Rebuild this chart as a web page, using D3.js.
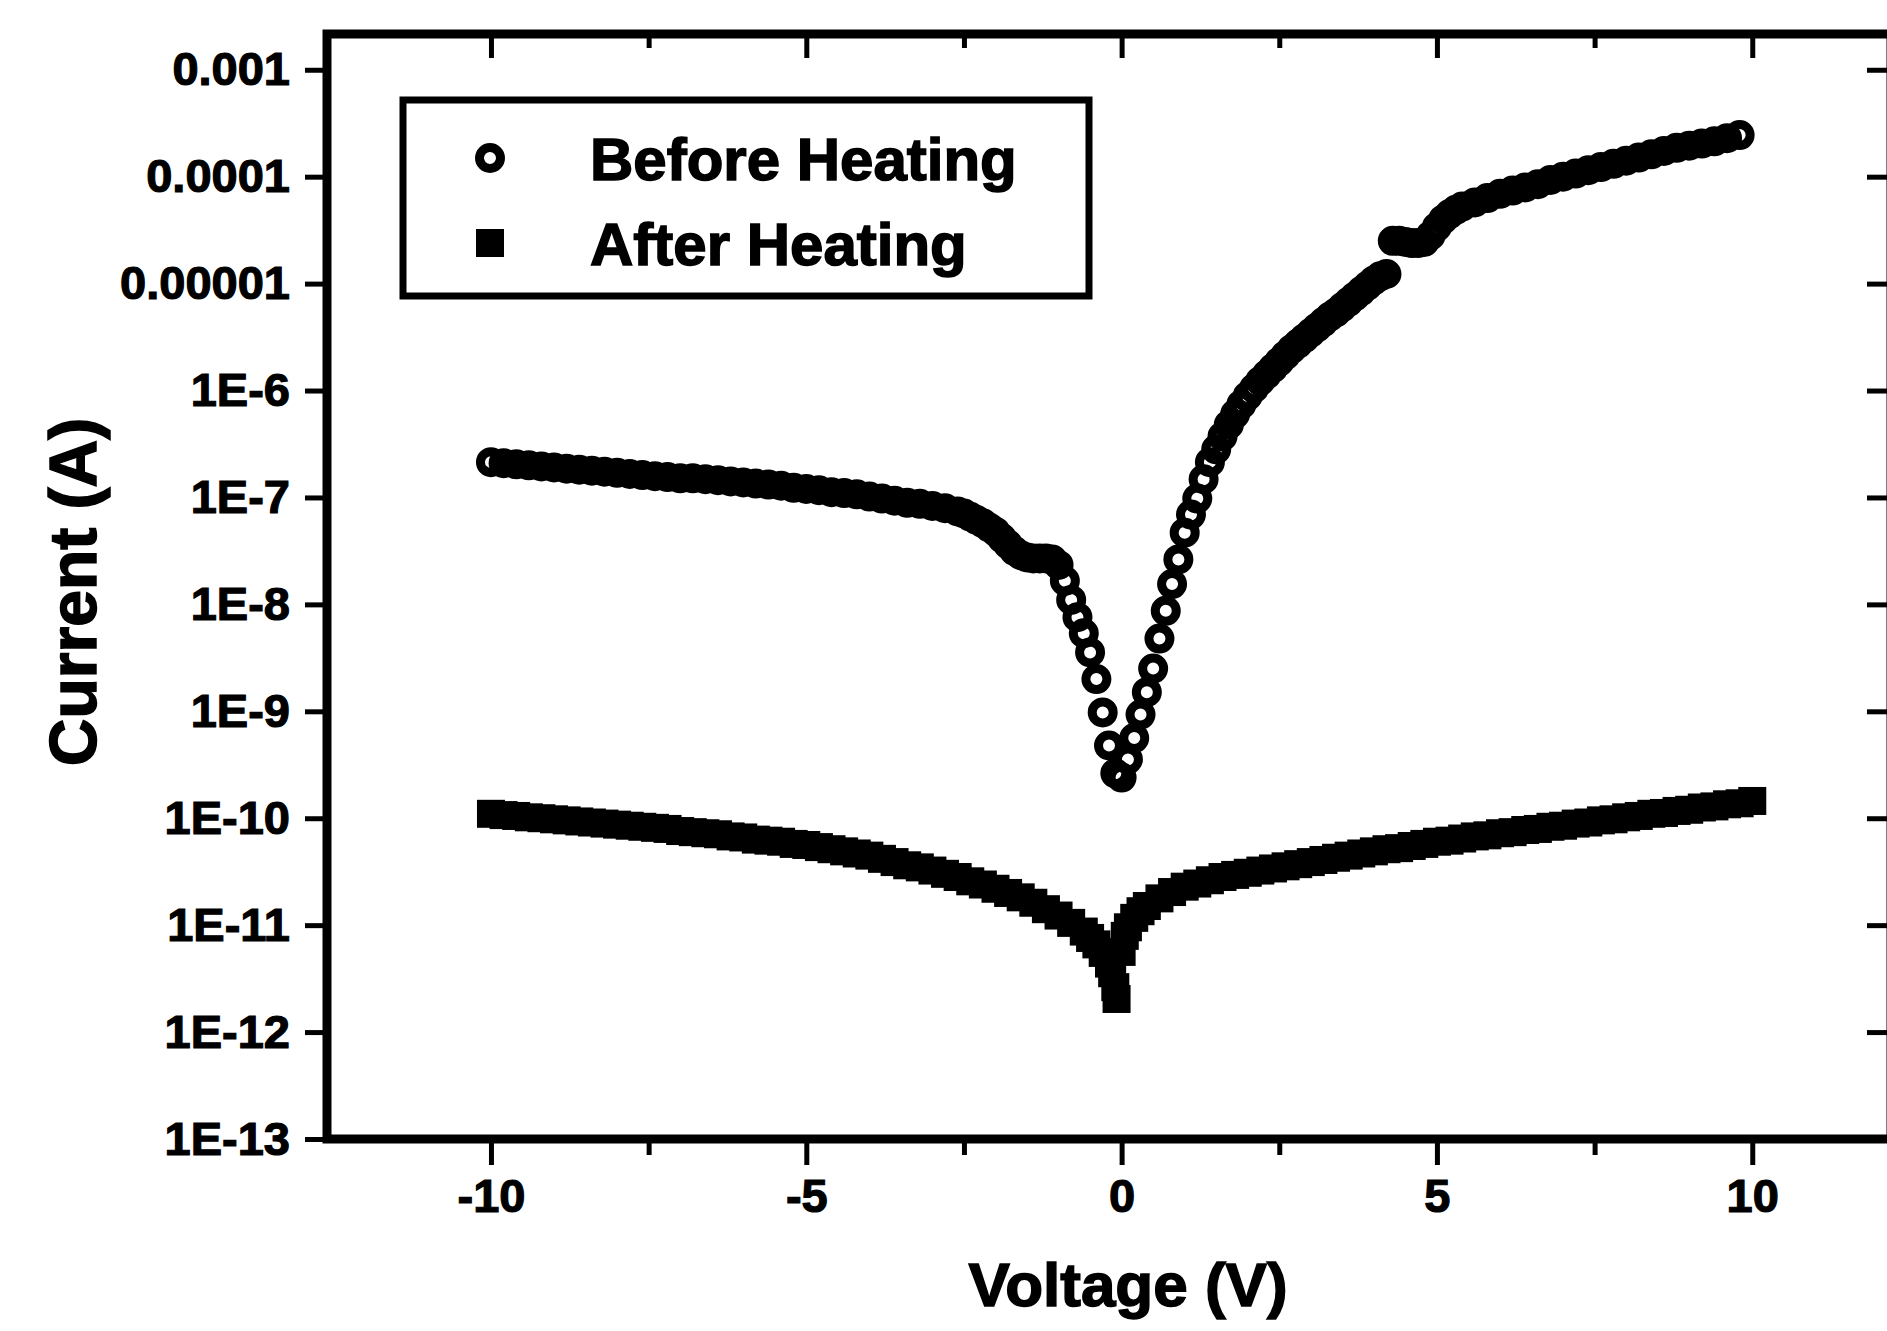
<!DOCTYPE html>
<html><head><meta charset="utf-8">
<script src="https://cdn.jsdelivr.net/npm/d3@7"></script>
<style>
html,body{margin:0;padding:0;background:#fff;overflow:hidden}
svg{display:block}
text{font-family:"Liberation Sans",Arial,Helvetica,sans-serif;font-weight:bold;fill:#000}
</style></head><body>
<svg id="chart" width="1887" height="1331"></svg>
<script>
// I–V sweep before heating (V, A)
const beforeVoltage = [
  -10.0,-9.8,-9.6,-9.4,-9.2,-9.0,-8.8,-8.6,-8.4,-8.2,-8.0,-7.8,-7.6,-7.4,-7.2,-7.0,
  -6.8,-6.6,-6.4,-6.2,-6.0,-5.8,-5.6,-5.4,-5.2,-5.0,-4.8,-4.6,-4.4,-4.2,-4.0,
  -3.8,-3.6,-3.4,-3.2,-3.0,-2.8,-2.6,-2.5,-2.4,-2.3,-2.2,-2.1,-2.0,-1.9,-1.8,-1.7,
  -1.6,-1.5,-1.4,-1.3,-1.2,-1.1,-1.0,-0.9,-0.8,-0.7,-0.6,-0.5,-0.4,-0.3,-0.2,-0.1,
  0.0,0.1,0.2,0.3,0.4,0.5,0.6,0.7,0.8,0.9,1.0,1.1,1.2,1.3,1.4,1.5,1.6,1.7,1.8,1.9,
  2.0,2.1,2.2,2.3,2.4,2.5,2.6,2.7,2.8,2.9,3.0,3.1,3.2,3.3,3.4,3.5,3.6,3.7,3.8,3.9,
  4.0,4.1,4.2,4.3,4.4,4.5,4.6,4.7,4.8,4.9,5.0,5.1,5.2,5.3,5.4,5.6,5.8,6.0,6.2,6.4,
  6.6,6.8,7.0,7.2,7.4,7.6,7.8,8.0,8.2,8.4,8.6,8.8,9.0,9.2,9.4,9.6,9.8
];
const beforeCurrent = [
  2.14e-7,2.09e-7,2.04e-7,2.00e-7,1.95e-7,1.91e-7,1.86e-7,1.82e-7,1.78e-7,1.74e-7,1.70e-7,1.66e-7,1.62e-7,1.58e-7,1.55e-7,1.51e-7,
  1.51e-7,1.48e-7,1.45e-7,1.41e-7,1.38e-7,1.35e-7,1.32e-7,1.29e-7,1.23e-7,1.20e-7,1.17e-7,1.12e-7,1.10e-7,1.07e-7,1.02e-7,
  9.77e-8,9.33e-8,8.91e-8,8.71e-8,8.32e-8,7.94e-8,7.41e-8,7.08e-8,6.61e-8,6.17e-8,5.75e-8,5.25e-8,4.79e-8,4.17e-8,3.63e-8,3.16e-8,
  2.88e-8,2.75e-8,2.69e-8,2.69e-8,2.69e-8,2.63e-8,2.34e-8,1.66e-8,1.10e-8,7.59e-9,5.37e-9,3.55e-9,2.00e-9,9.77e-10,4.79e-10,2.63e-10,
  2.40e-10,3.55e-10,5.62e-10,9.33e-10,1.51e-9,2.51e-9,4.79e-9,8.71e-9,1.55e-8,2.63e-8,4.68e-8,6.92e-8,9.77e-8,1.48e-7,2.14e-7,2.82e-7,3.72e-7,4.79e-7,6.03e-7,7.41e-7,
  8.91e-7,1.05e-6,1.23e-6,1.41e-6,1.62e-6,1.86e-6,2.14e-6,2.45e-6,2.75e-6,3.09e-6,3.47e-6,3.89e-6,4.37e-6,4.90e-6,5.37e-6,6.03e-6,6.76e-6,7.59e-6,8.51e-6,9.55e-6,
  1.07e-5,1.17e-5,1.23e-5,2.51e-5,2.51e-5,2.45e-5,2.40e-5,2.40e-5,2.45e-5,2.82e-5,3.39e-5,3.98e-5,4.47e-5,4.90e-5,5.25e-5,5.75e-5,6.31e-5,6.92e-5,7.41e-5,7.94e-5,
  8.51e-5,9.33e-5,1.00e-4,1.07e-4,1.15e-4,1.23e-4,1.32e-4,1.41e-4,1.51e-4,1.62e-4,1.74e-4,1.86e-4,1.95e-4,2.04e-4,2.14e-4,2.29e-4,2.45e-4
];

// I–V sweep after heating (V, A)
const afterVoltage = [
  -10.0,-9.8,-9.6,-9.4,-9.2,-9.0,-8.8,-8.6,-8.4,-8.2,-8.0,-7.8,-7.6,-7.4,-7.2,-7.0,
  -6.8,-6.6,-6.4,-6.2,-6.0,-5.8,-5.6,-5.4,-5.2,-5.0,-4.8,-4.6,-4.4,-4.2,-4.0,
  -3.8,-3.6,-3.4,-3.2,-3.0,-2.8,-2.6,-2.4,-2.2,-2.0,-1.8,-1.6,-1.4,-1.2,-1.0,
  -0.8,-0.6,-0.5,-0.4,-0.3,-0.2,-0.15,-0.1,-0.08,0.0,0.05,0.1,0.2,0.3,0.4,0.6,0.8,
  1.0,1.2,1.4,1.6,1.8,2.0,2.2,2.4,2.6,2.8,3.0,3.2,3.4,3.6,3.8,4.0,4.2,4.4,4.6,4.8,
  5.0,5.2,5.4,5.6,5.8,6.0,6.2,6.4,6.6,6.8,7.0,7.2,7.4,7.6,7.8,8.0,8.2,8.4,8.6,8.8,
  9.0,9.2,9.4,9.6,9.8,10.0
];
const afterCurrent = [
  1.10e-10,1.07e-10,1.05e-10,1.02e-10,1.00e-10,9.77e-11,9.55e-11,9.33e-11,9.12e-11,8.91e-11,8.71e-11,8.51e-11,8.32e-11,8.13e-11,7.94e-11,7.59e-11,
  7.41e-11,7.24e-11,7.08e-11,6.76e-11,6.61e-11,6.31e-11,6.17e-11,6.03e-11,5.75e-11,5.62e-11,5.37e-11,5.13e-11,4.90e-11,4.68e-11,4.47e-11,
  4.17e-11,3.89e-11,3.63e-11,3.47e-11,3.24e-11,3.02e-11,2.82e-11,2.57e-11,2.40e-11,2.19e-11,2.00e-11,1.82e-11,1.62e-11,1.41e-11,1.23e-11,
  1.05e-11,8.71e-12,7.59e-12,6.61e-12,5.50e-12,4.37e-12,3.55e-12,2.63e-12,2.04e-12,5.62e-12,7.94e-12,9.55e-12,1.17e-11,1.35e-11,1.51e-11,1.78e-11,2.04e-11,
  2.29e-11,2.45e-11,2.63e-11,2.82e-11,2.95e-11,3.09e-11,3.24e-11,3.39e-11,3.55e-11,3.72e-11,3.89e-11,4.07e-11,4.27e-11,4.47e-11,4.68e-11,4.90e-11,5.13e-11,5.25e-11,5.50e-11,5.75e-11,
  6.03e-11,6.17e-11,6.46e-11,6.76e-11,6.92e-11,7.24e-11,7.41e-11,7.76e-11,7.94e-11,8.32e-11,8.51e-11,8.91e-11,9.12e-11,9.55e-11,9.77e-11,1.02e-10,1.05e-10,1.10e-10,1.12e-10,1.17e-10,
  1.20e-10,1.26e-10,1.29e-10,1.35e-10,1.38e-10,1.45e-10
];

// Axis ticks and labels
const xTickValues = [-10, -5, 0, 5, 10];
const xTickLabels = ["-10", "-5", "0", "5", "10"];
const xMinorTicks = [-7.5, -2.5, 2.5, 7.5];
const yTickValues = [1e-3, 1e-4, 1e-5, 1e-6, 1e-7, 1e-8, 1e-9, 1e-10, 1e-11, 1e-12, 1e-13];
const yTickLabels = ["0.001", "0.0001", "0.00001", "1E-6", "1E-7", "1E-8", "1E-9", "1E-10", "1E-11", "1E-12", "1E-13"];
const seriesNames = ["Before Heating", "After Heating"];
const xTitle = "Voltage (V)";
const yTitle = "Current (A)";

const svg = d3.select("#chart");
const frame = { left: 327, right: 1891, top: 34, bottom: 1139 };

const x = d3.scaleLinear().domain([-12.6, 12.2]).range([frame.left, frame.right]);
const y = d3.scaleLog().domain([1e-13, 2.16e-3]).range([frame.bottom, frame.top]);

const before = beforeVoltage.map((v, i) => ({ v, i: beforeCurrent[i] }));
const after = afterVoltage.map((v, i) => ({ v, i: afterCurrent[i] }));

// minor log ticks (2..9 within each decade)
const yMinor = y.ticks().filter(d => {
  const m = Math.round(d / Math.pow(10, Math.floor(Math.log10(d) + 1e-9)));
  return m !== 1;
});

function styleAxis(g, width) {
  g.select(".domain").remove();
  g.selectAll(".tick line").attr("stroke", "#000").attr("stroke-width", width);
}

// left axis: major ticks outward with labels
svg.append("g")
  .attr("transform", `translate(${frame.left},0)`)
  .call(d3.axisLeft(y).tickValues(yTickValues).tickFormat((d, i) => yTickLabels[i]).tickSize(22).tickPadding(15))
  .call(g => styleAxis(g, 5))
  .call(g => g.selectAll("text")
    .attr("font-size", 47).attr("font-family", "Liberation Sans, Arial, sans-serif")
    .attr("font-weight", "bold").attr("fill", "#000")
    .attr("stroke", "#000").attr("stroke-width", 1.2));

svg.append("g")
  .attr("transform", `translate(${frame.left},0)`)
  .call(d3.axisLeft(y).tickValues(yMinor).tickFormat("").tickSize(12))
  .call(g => styleAxis(g, 3));

// right axis: ticks pointing inward
svg.append("g")
  .attr("transform", `translate(${frame.right},0)`)
  .call(d3.axisRight(y).tickValues(yTickValues).tickFormat("").tickSize(-24))
  .call(g => styleAxis(g, 5));
svg.append("g")
  .attr("transform", `translate(${frame.right},0)`)
  .call(d3.axisRight(y).tickValues(yMinor).tickFormat("").tickSize(-10))
  .call(g => styleAxis(g, 3));

// bottom axis: ticks outward with labels
svg.append("g")
  .attr("transform", `translate(0,${frame.bottom})`)
  .call(d3.axisBottom(x).tickValues(xTickValues).tickFormat((d, i) => xTickLabels[i]).tickSize(26).tickPadding(14))
  .call(g => styleAxis(g, 5))
  .call(g => g.selectAll("text")
    .attr("font-size", 47).attr("font-family", "Liberation Sans, Arial, sans-serif")
    .attr("font-weight", "bold").attr("fill", "#000")
    .attr("stroke", "#000").attr("stroke-width", 1.2));
svg.append("g")
  .attr("transform", `translate(0,${frame.bottom})`)
  .call(d3.axisBottom(x).tickValues(xMinorTicks).tickFormat("").tickSize(16))
  .call(g => styleAxis(g, 5));

// top axis: ticks pointing inward
svg.append("g")
  .attr("transform", `translate(0,${frame.top})`)
  .call(d3.axisTop(x).tickValues(xTickValues).tickFormat("").tickSize(-24))
  .call(g => styleAxis(g, 5));
svg.append("g")
  .attr("transform", `translate(0,${frame.top})`)
  .call(d3.axisTop(x).tickValues(xMinorTicks).tickFormat("").tickSize(-14))
  .call(g => styleAxis(g, 5));

// plot frame
svg.append("rect")
  .attr("x", frame.left).attr("y", frame.top)
  .attr("width", frame.right - frame.left).attr("height", frame.bottom - frame.top)
  .attr("fill", "none").attr("stroke", "#000").attr("stroke-width", 9);

// data: after heating (filled squares)
const sq = 28;
svg.append("g").selectAll("rect")
  .data(after).join("rect")
  .attr("x", d => x(d.v) - sq / 2).attr("y", d => y(d.i) - sq / 2)
  .attr("width", sq).attr("height", sq)
  .attr("fill", "#000");

// data: before heating (open circles)
svg.append("g").selectAll("circle")
  .data(before).join("circle")
  .attr("cx", d => x(d.v)).attr("cy", d => y(d.i))
  .attr("r", 10.5)
  .attr("fill", "none").attr("stroke", "#000").attr("stroke-width", 9);

// legend
const lg = svg.append("g");
lg.append("rect")
  .attr("x", 403).attr("y", 100).attr("width", 686).attr("height", 196)
  .attr("fill", "#fff").attr("stroke", "#000").attr("stroke-width", 7);
lg.append("circle")
  .attr("cx", 490).attr("cy", 158).attr("r", 10.5)
  .attr("fill", "none").attr("stroke", "#000").attr("stroke-width", 9);
lg.append("rect")
  .attr("x", 490 - sq / 2).attr("y", 243 - sq / 2).attr("width", sq).attr("height", sq)
  .attr("fill", "#000");
lg.selectAll("text.lbl")
  .data(seriesNames).join("text")
  .attr("class", "lbl")
  .attr("x", 590).attr("y", (d, i) => [180, 265][i])
  .attr("font-size", 60)
  .attr("stroke", "#000").attr("stroke-width", 1.5)
  .text(d => d);

// axis titles
svg.append("text")
  .attr("transform", "translate(96,592) rotate(-90)")
  .attr("text-anchor", "middle")
  .attr("font-size", 66)
  .attr("stroke", "#000").attr("stroke-width", 1.5)
  .text(yTitle);

svg.append("text")
  .attr("x", 1128).attr("y", 1306)
  .attr("text-anchor", "middle")
  .attr("font-size", 62)
  .attr("stroke", "#000").attr("stroke-width", 1.5)
  .text(xTitle);
</script>
</body></html>
